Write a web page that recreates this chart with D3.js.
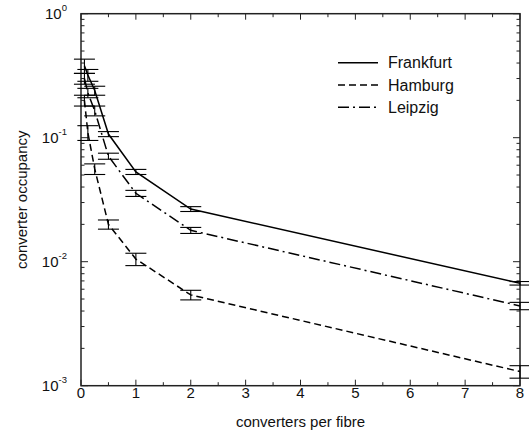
<!DOCTYPE html>
<html>
<head>
<meta charset="utf-8">
<script src="https://cdn.jsdelivr.net/npm/d3@7"></script>
<style>
  html, body { margin: 0; padding: 0; background: #fff; }
  svg { display: block; font-family: "Liberation Sans", Arial, Helvetica, sans-serif; }
</style>
</head>
<body>
<svg id="chart" width="529" height="432"></svg>
<script>
// converters per fibre (x positions of the measurements)
const converters = [0.0625, 0.125, 0.25, 0.5, 1, 2, 8];

// converter occupancy per city
const frankfurt = [0.38, 0.32, 0.24, 0.107, 0.053, 0.0266, 0.0067];
const hamburg   = [0.20, 0.11, 0.056, 0.020, 0.0105, 0.0054, 0.0013];
const leipzig   = [0.30, 0.23, 0.165, 0.071, 0.0356, 0.0179, 0.0044];

// symmetric error estimates
const frankfurtErr = [0.05, 0.035, 0.02, 0.005, 0.0025, 0.0012, 0.00022];
const hamburgErr   = [0.02, 0.015, 0.0055, 0.0017, 0.0012, 0.00048, 0.00015];
const leipzigErr   = [0.03, 0.02, 0.015, 0.004, 0.002, 0.001, 0.0003];

const xTicks = [0, 1, 2, 3, 4, 5, 6, 7, 8];
const yTickExponents = [0, -1, -2, -3];

const seriesNames = ["Frankfurt", "Hamburg", "Leipzig"];
const seriesValues = [frankfurt, hamburg, leipzig];
const seriesErrors = [frankfurtErr, hamburgErr, leipzigErr];
const seriesDash = [null, "7,4", "11,4,2,4"];

const svg = d3.select("#chart");
const plotLeft = 81, plotRight = 520, plotTop = 13.7, plotBottom = 385.7;

const x = d3.scaleLinear().domain([0, 8]).range([plotLeft, plotRight]);
const y = d3.scaleLog().domain([1e-3, 1]).range([plotBottom, plotTop]);

const axisColor = "#222";

// ticks on all four sides, pointing inwards
const tickG = svg.append("g").attr("stroke", axisColor).attr("stroke-width", 1);
const xMinor = d3.range(0, 8.01, 0.5);
xMinor.forEach(v => {
  const len = Number.isInteger(v) ? 6 : 3.5;
  tickG.append("line").attr("x1", x(v)).attr("x2", x(v)).attr("y1", plotBottom).attr("y2", plotBottom - len);
  tickG.append("line").attr("x1", x(v)).attr("x2", x(v)).attr("y1", plotTop).attr("y2", plotTop + len);
});
const yAll = [];
for (let e = -3; e < 0; e++) {
  for (let m = 1; m <= 9; m++) yAll.push({ v: m * Math.pow(10, e), major: m === 1 });
}
yAll.push({ v: 1, major: true });
yAll.forEach(t => {
  const len = t.major ? 7 : 3.5;
  tickG.append("line").attr("x1", plotLeft).attr("x2", plotLeft + len).attr("y1", y(t.v)).attr("y2", y(t.v));
  tickG.append("line").attr("x1", plotRight).attr("x2", plotRight - len).attr("y1", y(t.v)).attr("y2", y(t.v));
});

// frame
svg.append("rect")
  .attr("x", plotLeft).attr("y", plotTop)
  .attr("width", plotRight - plotLeft).attr("height", plotBottom - plotTop)
  .attr("fill", "none").attr("stroke", axisColor).attr("stroke-width", 1.5);

// x tick labels
svg.append("g").selectAll("text").data(xTicks).join("text")
  .attr("x", d => x(d)).attr("y", plotBottom + 12.5)
  .attr("text-anchor", "middle").attr("font-size", 15).attr("fill", "#111")
  .text(d => d);

// y tick labels as powers of ten
const yLab = svg.append("g").selectAll("text").data(yTickExponents).join("text")
  .attr("x", 67).attr("y", d => y(Math.pow(10, d)) + 5.5)
  .attr("text-anchor", "end").attr("font-size", 15).attr("fill", "#111");
yLab.append("tspan").text("10");
yLab.append("tspan").attr("dy", -8.5).attr("font-size", 9.5).text(d => d === 0 ? "0" : "-" + Math.abs(d));

// axis titles
svg.append("text")
  .attr("x", (plotLeft + plotRight) / 2).attr("y", 426.5)
  .attr("text-anchor", "middle").attr("font-size", 15).attr("fill", "#111")
  .text("converters per fibre");
svg.append("text")
  .attr("transform", `translate(26.5,${(plotTop + plotBottom) / 2}) rotate(-90)`)
  .attr("text-anchor", "middle").attr("font-size", 15).attr("fill", "#111")
  .text("converter occupancy");

// error bars
const capHalf = 10.5;
seriesValues.forEach((vals, si) => {
  const errs = seriesErrors[si];
  const g = svg.append("g").attr("stroke", "#000").attr("stroke-width", 1.1);
  vals.forEach((v, i) => {
    const cx = x(converters[i]);
    const yHi = y(v + errs[i]), yLo = y(v - errs[i]);
    g.append("line").attr("x1", cx).attr("x2", cx).attr("y1", yHi).attr("y2", yLo);
    g.append("line").attr("x1", cx - capHalf).attr("x2", cx + capHalf).attr("y1", yHi).attr("y2", yHi);
    g.append("line").attr("x1", cx - capHalf).attr("x2", cx + capHalf).attr("y1", yLo).attr("y2", yLo);
  });
});

// series lines
const line = d3.line().x(d => x(d[0])).y(d => y(d[1]));
seriesValues.forEach((vals, si) => {
  svg.append("path")
    .datum(converters.map((c, i) => [c, vals[i]]))
    .attr("d", line)
    .attr("fill", "none").attr("stroke", "#000").attr("stroke-width", 1.5)
    .attr("stroke-dasharray", seriesDash[si]);
});

// legend
const legend = svg.append("g");
seriesNames.forEach((name, si) => {
  const ly = 62.7 + si * 22.3;
  legend.append("line")
    .attr("x1", 338).attr("x2", 378).attr("y1", ly).attr("y2", ly)
    .attr("stroke", "#000").attr("stroke-width", 1.5)
    .attr("stroke-dasharray", seriesDash[si]);
  legend.append("text")
    .attr("x", 388).attr("y", ly + 5.6)
    .attr("font-size", 16).attr("fill", "#111")
    .text(name);
});
</script>
</body>
</html>
